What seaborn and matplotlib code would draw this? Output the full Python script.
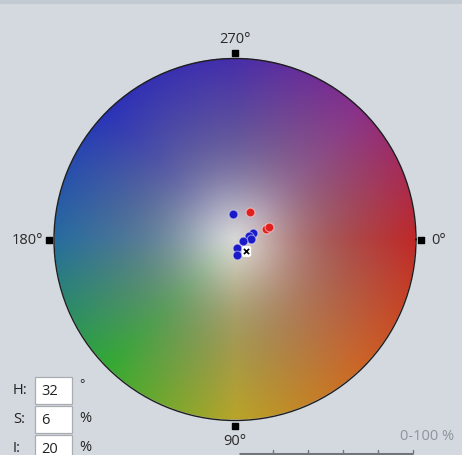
import numpy as np
import matplotlib
matplotlib.use("Agg")
import matplotlib.pyplot as plt
from matplotlib.patches import Rectangle
import seaborn as sns
import pandas as pd

# points: hue angle (deg) and saturation (%)
blue_hue = [265, 340, 345, 358, 11, 79, 84]
blue_sat = [14.1, 10.4, 8.2, 8.7, 4.3, 5.0, 8.6]
red_hue = [299, 341, 340]
red_sat = [17.6, 17.9, 20.1]
cursor_hue = [45]
cursor_sat = [8.7]

angle_ticks = [0, 90, 180, 270]
angle_labels = ["0°", "90°", "180°", "270°"]

field_labels = ["H:", "S:", "I:"]
field_values = ["32", "6", "20"]
field_units = ["°", "%", "%"]
scale_label = "0-100 %"

sns.set_style("white")
plt.rcParams["font.family"] = ["Open Sans", "DejaVu Sans"]

W, H = 462, 456
fig = plt.figure(figsize=(W / 100, H / 100), dpi=100)
fig.patch.set_facecolor("#d3d9df")

# background axes in pixel coords
bg = fig.add_axes([0, 0, 1, 1])
bg.set_xlim(0, W)
bg.set_ylim(H, 0)
bg.axis("off")
bg.add_patch(Rectangle((0, 0), W, 5, color="#c4cad2", lw=0))

# colour wheel image
cx, cy, R = 235, 240.5, 181
anchor_deg = [0, 45, 90, 135, 180, 225, 270, 315, 360]
anchor_rgb = np.array([
    [192, 40, 40], [205, 100, 38], [185, 165, 40], [50, 170, 50],
    [38, 108, 160], [42, 50, 185], [70, 46, 170], [140, 48, 135], [192, 40, 40],
]) / 255.0
mid_gray = np.array([132, 132, 132]) / 255.0
center_rgb = np.array([214, 214, 212]) / 255.0

n = 700
g = np.linspace(-1, 1, n)
xx, yy = np.meshgrid(g, g)
rr = np.sqrt(xx ** 2 + yy ** 2)
ang = np.degrees(np.arctan2(yy, xx)) % 360
edge = np.stack([np.interp(ang, anchor_deg, anchor_rgb[:, k]) for k in range(3)], axis=-1)
glow = np.exp(-(rr / 0.37) ** 2)[..., None]
base = mid_gray * (1 - glow) + center_rgb * glow
t = np.clip(rr, 0, 1)[..., None]
img = base * (1 - t) + edge * t
alpha = (rr <= 1.0).astype(float)[..., None]
img = np.concatenate([np.clip(img, 0, 1), alpha], axis=-1)
bg.imshow(img, extent=(cx - R, cx + R, cy + R, cy - R), interpolation="bilinear", zorder=1)

# polar axes on top of the wheel
pax = fig.add_axes([(cx - R) / W, (H - cy - R) / H, 2 * R / W, 2 * R / H], projection="polar")
pax.set_facecolor("none")
pax.set_theta_zero_location("E")
pax.set_theta_direction(-1)
pax.set_ylim(0, 100)
pax.grid(False)
pax.set_xticks([])
pax.set_yticks([])
pax.spines["polar"].set_edgecolor("#1e1e1e")
pax.spines["polar"].set_linewidth(1.0)

blue = pd.DataFrame({"theta": np.radians(blue_hue), "sat": blue_sat})
red = pd.DataFrame({"theta": np.radians(red_hue), "sat": red_sat})
sns.scatterplot(data=blue, x="theta", y="sat", ax=pax, color="#1a1ac8", s=40,
                edgecolor=(0.9, 0.9, 1.0, 0.5), linewidth=0.8, zorder=5)
sns.scatterplot(data=red, x="theta", y="sat", ax=pax, color="#e0201e", s=40,
                edgecolor=(1.0, 0.85, 0.85, 0.6), linewidth=0.8, zorder=5)
pax.scatter(np.radians(cursor_hue), cursor_sat, marker="s", s=30, color="white", zorder=6)
pax.scatter(np.radians(cursor_hue), cursor_sat, marker="x", s=14, color="black", linewidths=1.2, zorder=7)
pax.set_xlabel("")
pax.set_ylabel("")

# compass squares and labels
th = np.radians(angle_ticks)
pax.scatter(th, [103] * 4, marker="s", s=14, color="black", clip_on=False, zorder=8)
label_pos = {0: (108.5, "left", "center"), 90: (107, "center", "top"),
             180: (106, "right", "center"), 270: (107, "center", "bottom")}
for a, lab in zip(angle_ticks, angle_labels):
    r, ha, va = label_pos[a]
    pax.text(np.radians(a), r, lab, ha=ha, va=va, fontsize=10.5, color="#2a2a2a", clip_on=False)

# H / S / I input fields
for i, (lab, val, unit) in enumerate(zip(field_labels, field_values, field_units)):
    y0 = 378 + i * 29
    bg.text(13, y0 + 13, lab, ha="left", va="center", fontsize=10.5, color="#222222")
    bg.add_patch(Rectangle((35, y0), 37, 27, facecolor="white", edgecolor="#a9adb2", lw=0.9, zorder=3))
    bg.text(41, y0 + 14, val, ha="left", va="center", fontsize=10.5, color="#222222", zorder=4)
    bg.text(79, y0 + (7 if unit == "°" else 12), unit, ha="left", va="center",
            fontsize=10.5 if unit == "%" else 9, color="#222222")

# intensity scale label and slider track
bg.text(427, 437, scale_label, ha="center", va="center", fontsize=10.5, color="#8d949b")
bg.plot([239, 413], [455, 455], color="#6f757b", lw=2.2, solid_capstyle="butt")
for xt in np.linspace(273, 413, 5):
    bg.plot([xt, xt], [451, 454], color="#6f757b", lw=1)

fig.savefig("out.png", dpi=100, facecolor=fig.get_facecolor())
